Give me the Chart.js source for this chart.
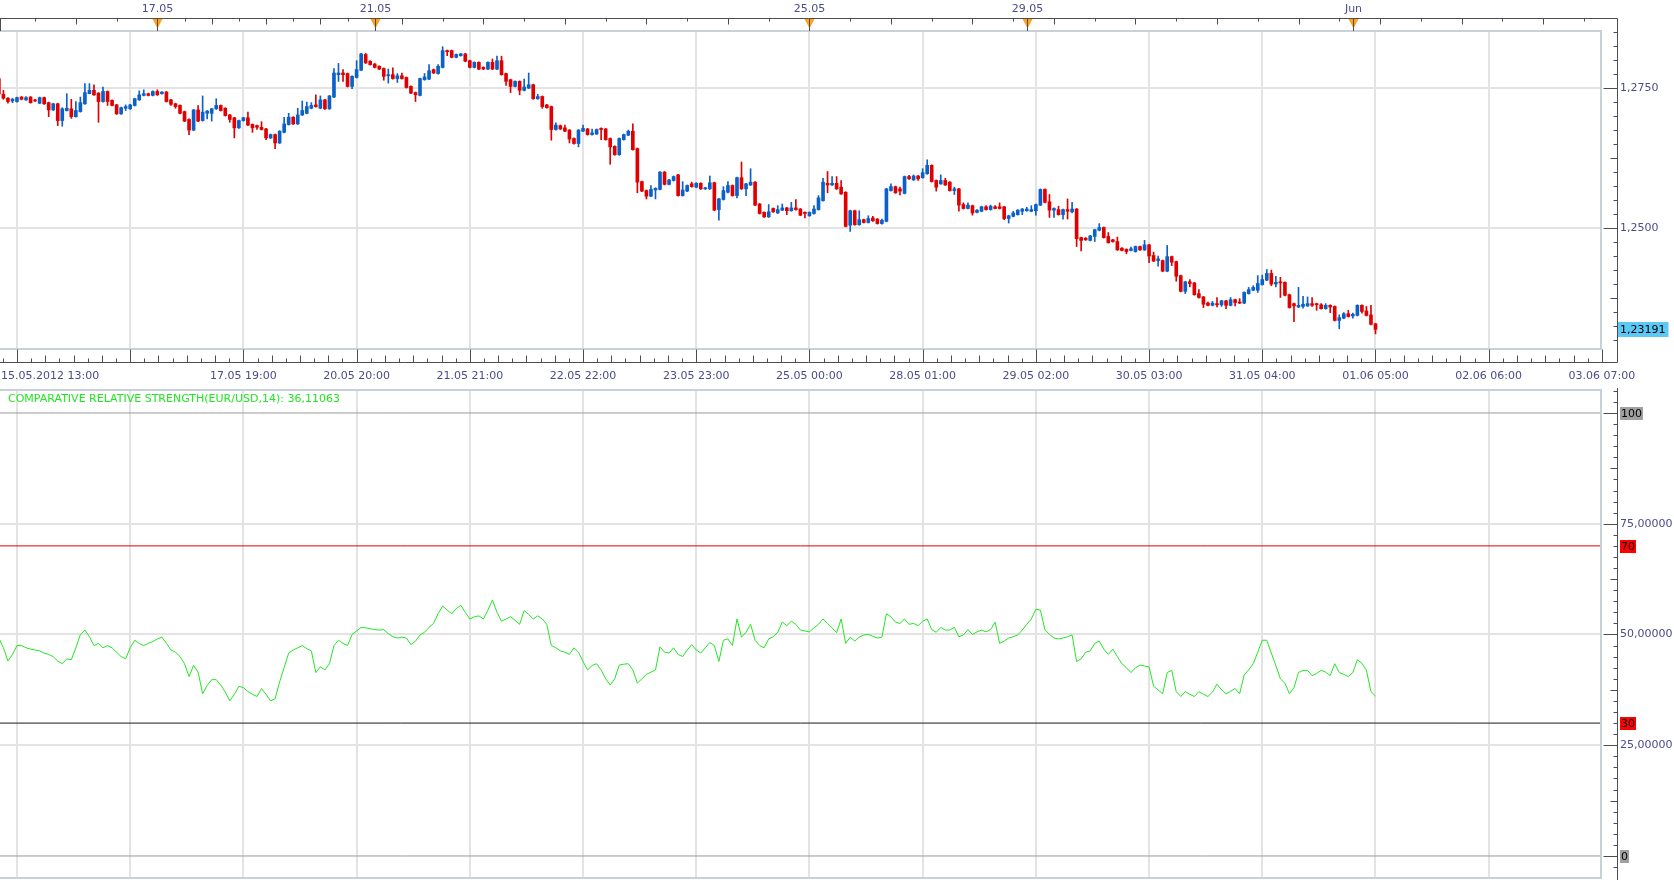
<!DOCTYPE html>
<html>
<head>
<meta charset="utf-8">
<title>EUR/USD H1 with Comparative Relative Strength</title>
<script src="https://cdn.jsdelivr.net/npm/chart.js@4/dist/chart.umd.min.js"></script>
<style>
  html, body { margin: 0; padding: 0; background: #fff; }
  #wrap { position: relative; width: 1674px; height: 880px; overflow: hidden; }
  #priceChart { position: absolute; left: 0; top: 0; }
  #rsiChart { position: absolute; left: 0; top: 388px; }
</style>
</head>
<body>
<div id="wrap">
  <canvas id="priceChart" width="1674" height="388"></canvas>
  <canvas id="rsiChart" width="1674" height="492"></canvas>
</div>
<script>
// hourly EUR/USD candles, 15.05.2012 - 01.06.2012 (index 0 = first visible bar)
var opens = [
  1.2767,1.2739,1.2732,1.2727,1.2726,1.2734,1.2729,1.2734,1.2728,1.2723,
  1.2733,1.2724,1.2711,1.2722,1.2692,1.2710,1.2713,1.2699,1.2708,1.2722,
  1.2740,1.2746,1.2741,1.2726,1.2744,1.2728,1.2720,1.2704,1.2714,1.2713,
  1.2719,1.2729,1.2737,1.2740,1.2737,1.2744,1.2740,1.2743,1.2729,1.2722,
  1.2719,1.2708,1.2694,1.2675,1.2711,1.2692,1.2705,1.2705,1.2713,1.2719,
  1.2714,1.2702,1.2697,1.2679,1.2692,1.2697,1.2685,1.2683,1.2680,1.2677,
  1.2661,1.2667,1.2652,1.2671,1.2685,1.2698,1.2686,1.2702,1.2705,1.2714,
  1.2720,1.2714,1.2729,1.2713,1.2734,1.2774,1.2777,1.2776,1.2753,1.2769,
  1.2782,1.2810,1.2798,1.2793,1.2789,1.2785,1.2772,1.2774,1.2767,1.2772,
  1.2769,1.2753,1.2742,1.2737,1.2765,1.2766,1.2783,1.2776,1.2787,1.2817,
  1.2817,1.2805,1.2808,1.2811,1.2799,1.2787,1.2796,1.2787,1.2784,1.2796,
  1.2784,1.2799,1.2776,1.2765,1.2753,1.2762,1.2746,1.2750,1.2756,1.2731,
  1.2735,1.2720,1.2717,1.2676,1.2683,1.2679,1.2675,1.2660,1.2651,1.2673,
  1.2677,1.2667,1.2668,1.2678,1.2677,1.2660,1.2646,1.2631,1.2658,1.2666,
  1.2673,1.2642,1.2583,1.2567,1.2557,1.2568,1.2569,1.2600,1.2578,1.2585,
  1.2595,1.2558,1.2566,1.2579,1.2573,1.2580,1.2570,1.2570,1.2581,1.2533,
  1.2551,1.2564,1.2576,1.2558,1.2590,1.2570,1.2577,1.2582,1.2543,1.2528,
  1.2520,1.2535,1.2527,1.2532,1.2536,1.2531,1.2536,1.2534,1.2528,1.2522,
  1.2526,1.2533,1.2549,1.2580,1.2577,1.2580,1.2573,1.2564,1.2505,1.2531,
  1.2506,1.2515,1.2510,1.2518,1.2516,1.2508,1.2512,1.2567,1.2574,1.2570,
  1.2562,1.2592,1.2586,1.2593,1.2590,1.2597,1.2612,1.2585,1.2579,1.2585,
  1.2582,1.2567,1.2570,1.2542,1.2535,1.2540,1.2528,1.2530,1.2538,1.2533,
  1.2538,1.2538,1.2538,1.2517,1.2521,1.2524,1.2530,1.2531,1.2530,1.2531,
  1.2541,1.2569,1.2547,1.2532,1.2533,1.2524,1.2533,1.2529,1.2534,1.2483,
  1.2482,1.2478,1.2485,1.2496,1.2501,1.2485,1.2479,1.2476,1.2464,1.2462,
  1.2460,1.2458,1.2467,1.2461,1.2470,1.2451,1.2442,1.2442,1.2423,1.2449,
  1.2440,1.2415,1.2387,1.2404,1.2402,1.2383,1.2377,1.2366,1.2362,1.2365,
  1.2363,1.2370,1.2362,1.2372,1.2368,1.2366,1.2383,1.2389,1.2389,1.2399,
  1.2407,1.2419,1.2400,1.2404,1.2403,1.2381,1.2365,1.2359,1.2360,1.2361,
  1.2365,1.2365,1.2363,1.2356,1.2362,1.2360,1.2335,1.2339,1.2347,1.2343,
  1.2344,1.2362,1.2352,1.2345,1.2329
];
var highs = [
  1.2767,1.2746,1.2733,1.2732,1.2734,1.2735,1.2735,1.2735,1.2730,1.2734,
  1.2734,1.2725,1.2723,1.2723,1.2715,1.2740,1.2730,1.2726,1.2734,1.2758,
  1.2758,1.2756,1.2742,1.2752,1.2745,1.2729,1.2721,1.2716,1.2720,1.2721,
  1.2732,1.2745,1.2747,1.2741,1.2745,1.2747,1.2744,1.2744,1.2730,1.2723,
  1.2720,1.2709,1.2695,1.2712,1.2719,1.2736,1.2710,1.2714,1.2731,1.2720,
  1.2715,1.2703,1.2698,1.2693,1.2698,1.2707,1.2686,1.2684,1.2690,1.2678,
  1.2668,1.2668,1.2674,1.2698,1.2705,1.2699,1.2714,1.2727,1.2725,1.2724,
  1.2738,1.2736,1.2730,1.2737,1.2785,1.2794,1.2783,1.2777,1.2772,1.2799,
  1.2812,1.2812,1.2799,1.2794,1.2790,1.2786,1.2784,1.2786,1.2776,1.2777,
  1.2770,1.2754,1.2743,1.2768,1.2776,1.2792,1.2784,1.2792,1.2824,1.2818,
  1.2818,1.2811,1.2812,1.2812,1.2800,1.2797,1.2797,1.2788,1.2797,1.2802,
  1.2807,1.2807,1.2777,1.2766,1.2763,1.2763,1.2766,1.2777,1.2757,1.2739,
  1.2736,1.2721,1.2718,1.2688,1.2684,1.2684,1.2676,1.2661,1.2676,1.2684,
  1.2678,1.2677,1.2677,1.2679,1.2678,1.2661,1.2647,1.2661,1.2668,1.2675,
  1.2686,1.2643,1.2584,1.2568,1.2576,1.2572,1.2601,1.2601,1.2587,1.2593,
  1.2596,1.2583,1.2577,1.2582,1.2581,1.2581,1.2573,1.2593,1.2582,1.2553,
  1.2574,1.2583,1.2577,1.2591,1.2618,1.2580,1.2606,1.2583,1.2544,1.2529,
  1.2542,1.2536,1.2540,1.2543,1.2537,1.2546,1.2551,1.2535,1.2529,1.2529,
  1.2540,1.2558,1.2589,1.2601,1.2592,1.2592,1.2585,1.2565,1.2532,1.2532,
  1.2531,1.2516,1.2522,1.2521,1.2517,1.2516,1.2571,1.2579,1.2575,1.2573,
  1.2593,1.2594,1.2595,1.2594,1.2606,1.2622,1.2613,1.2586,1.2595,1.2589,
  1.2583,1.2573,1.2571,1.2545,1.2545,1.2541,1.2533,1.2539,1.2540,1.2541,
  1.2540,1.2545,1.2539,1.2523,1.2530,1.2533,1.2535,1.2537,1.2540,1.2543,
  1.2570,1.2570,1.2560,1.2536,1.2539,1.2534,1.2552,1.2546,1.2535,1.2484,
  1.2483,1.2487,1.2498,1.2508,1.2502,1.2492,1.2480,1.2484,1.2465,1.2463,
  1.2466,1.2468,1.2468,1.2478,1.2471,1.2457,1.2450,1.2443,1.2469,1.2450,
  1.2441,1.2416,1.2405,1.2408,1.2403,1.2390,1.2378,1.2368,1.2369,1.2376,
  1.2371,1.2371,1.2376,1.2373,1.2374,1.2386,1.2394,1.2397,1.2415,1.2416,
  1.2426,1.2425,1.2414,1.2412,1.2404,1.2382,1.2366,1.2394,1.2378,1.2377,
  1.2376,1.2366,1.2365,1.2365,1.2363,1.2361,1.2345,1.2349,1.2353,1.2348,
  1.2363,1.2363,1.2360,1.2362,1.2330
];
var lows = [
  1.2738,1.2730,1.2723,1.2724,1.2725,1.2729,1.2728,1.2723,1.2726,1.2722,
  1.2721,1.2699,1.2710,1.2683,1.2682,1.2709,1.2696,1.2698,1.2707,1.2721,
  1.2740,1.2737,1.2689,1.2725,1.2719,1.2718,1.2703,1.2703,1.2710,1.2712,
  1.2718,1.2728,1.2736,1.2736,1.2736,1.2737,1.2739,1.2725,1.2719,1.2714,
  1.2704,1.2690,1.2667,1.2674,1.2690,1.2691,1.2695,1.2691,1.2712,1.2709,
  1.2700,1.2689,1.2661,1.2678,1.2691,1.2683,1.2671,1.2676,1.2675,1.2658,
  1.2660,1.2642,1.2651,1.2670,1.2684,1.2685,1.2685,1.2701,1.2704,1.2713,
  1.2716,1.2713,1.2712,1.2712,1.2733,1.2762,1.2762,1.2752,1.2749,1.2768,
  1.2781,1.2794,1.2791,1.2786,1.2783,1.2764,1.2759,1.2766,1.2760,1.2766,
  1.2750,1.2740,1.2726,1.2736,1.2764,1.2765,1.2776,1.2775,1.2786,1.2808,
  1.2804,1.2804,1.2807,1.2797,1.2786,1.2786,1.2783,1.2783,1.2783,1.2783,
  1.2783,1.2773,1.2755,1.2742,1.2752,1.2738,1.2745,1.2749,1.2730,1.2730,
  1.2714,1.2714,1.2657,1.2675,1.2676,1.2672,1.2652,1.2650,1.2645,1.2672,
  1.2666,1.2666,1.2667,1.2658,1.2657,1.2614,1.2630,1.2630,1.2657,1.2665,
  1.2639,1.2563,1.2565,1.2552,1.2556,1.2552,1.2568,1.2577,1.2577,1.2584,
  1.2557,1.2557,1.2565,1.2573,1.2572,1.2569,1.2569,1.2569,1.2531,1.2514,
  1.2550,1.2563,1.2557,1.2554,1.2569,1.2558,1.2576,1.2540,1.2525,1.2519,
  1.2519,1.2528,1.2526,1.2531,1.2524,1.2530,1.2532,1.2522,1.2518,1.2521,
  1.2525,1.2532,1.2548,1.2563,1.2576,1.2569,1.2560,1.2502,1.2494,1.2505,
  1.2505,1.2509,1.2509,1.2512,1.2507,1.2507,1.2511,1.2566,1.2562,1.2559,
  1.2561,1.2587,1.2585,1.2585,1.2589,1.2596,1.2582,1.2566,1.2578,1.2576,
  1.2566,1.2560,1.2530,1.2534,1.2534,1.2523,1.2527,1.2529,1.2532,1.2532,
  1.2534,1.2534,1.2515,1.2509,1.2520,1.2523,1.2524,1.2530,1.2529,1.2523,
  1.2540,1.2545,1.2519,1.2519,1.2523,1.2516,1.2516,1.2527,1.2467,1.2459,
  1.2478,1.2477,1.2476,1.2495,1.2482,1.2473,1.2475,1.2460,1.2459,1.2454,
  1.2459,1.2457,1.2460,1.2460,1.2438,1.2440,1.2432,1.2422,1.2422,1.2433,
  1.2405,1.2386,1.2383,1.2395,1.2380,1.2375,1.2358,1.2361,1.2361,1.2359,
  1.2360,1.2356,1.2361,1.2361,1.2365,1.2365,1.2382,1.2388,1.2385,1.2398,
  1.2406,1.2397,1.2395,1.2376,1.2379,1.2357,1.2333,1.2358,1.2357,1.2360,
  1.2360,1.2353,1.2355,1.2355,1.2349,1.2334,1.2320,1.2338,1.2341,1.2339,
  1.2343,1.2348,1.2343,1.2327,1.2311
];
var closes = [
  1.2739,1.2732,1.2726,1.2730,1.2733,1.2730,1.2733,1.2724,1.2727,1.2733,
  1.2722,1.2711,1.2722,1.2692,1.2713,1.2714,1.2699,1.2710,1.2724,1.2742,
  1.2746,1.2738,1.2726,1.2744,1.2726,1.2719,1.2704,1.2715,1.2717,1.2720,
  1.2731,1.2738,1.2740,1.2737,1.2744,1.2738,1.2743,1.2726,1.2721,1.2717,
  1.2705,1.2691,1.2675,1.2711,1.2691,1.2707,1.2709,1.2713,1.2719,1.2710,
  1.2701,1.2694,1.2679,1.2692,1.2697,1.2684,1.2679,1.2680,1.2676,1.2661,
  1.2667,1.2652,1.2673,1.2686,1.2698,1.2686,1.2702,1.2710,1.2717,1.2719,
  1.2717,1.2729,1.2713,1.2736,1.2777,1.2777,1.2774,1.2753,1.2771,1.2783,
  1.2811,1.2795,1.2792,1.2787,1.2784,1.2771,1.2774,1.2767,1.2772,1.2767,
  1.2751,1.2741,1.2738,1.2767,1.2770,1.2781,1.2777,1.2789,1.2817,1.2815,
  1.2805,1.2810,1.2811,1.2798,1.2787,1.2796,1.2784,1.2784,1.2796,1.2784,
  1.2799,1.2774,1.2762,1.2753,1.2762,1.2746,1.2752,1.2756,1.2731,1.2735,
  1.2717,1.2715,1.2676,1.2684,1.2677,1.2673,1.2659,1.2651,1.2675,1.2678,
  1.2667,1.2670,1.2676,1.2676,1.2658,1.2645,1.2631,1.2660,1.2667,1.2673,
  1.2640,1.2582,1.2566,1.2557,1.2569,1.2571,1.2600,1.2578,1.2586,1.2592,
  1.2558,1.2568,1.2576,1.2574,1.2580,1.2570,1.2572,1.2581,1.2532,1.2552,
  1.2567,1.2576,1.2558,1.2590,1.2570,1.2579,1.2582,1.2541,1.2526,1.2520,
  1.2529,1.2529,1.2533,1.2536,1.2531,1.2536,1.2533,1.2523,1.2526,1.2528,
  1.2534,1.2554,1.2582,1.2577,1.2580,1.2570,1.2561,1.2503,1.2531,1.2506,
  1.2515,1.2510,1.2517,1.2513,1.2508,1.2514,1.2570,1.2574,1.2563,1.2566,
  1.2592,1.2588,1.2593,1.2588,1.2599,1.2612,1.2583,1.2573,1.2585,1.2577,
  1.2567,1.2570,1.2541,1.2535,1.2541,1.2527,1.2532,1.2538,1.2533,1.2539,
  1.2535,1.2535,1.2517,1.2522,1.2527,1.2532,1.2534,1.2534,1.2533,1.2542,
  1.2569,1.2546,1.2532,1.2535,1.2524,1.2533,1.2530,1.2534,1.2481,1.2478,
  1.2479,1.2486,1.2497,1.2501,1.2483,1.2474,1.2476,1.2461,1.2460,1.2458,
  1.2463,1.2467,1.2461,1.2470,1.2450,1.2441,1.2445,1.2423,1.2449,1.2439,
  1.2414,1.2387,1.2404,1.2401,1.2381,1.2376,1.2364,1.2362,1.2366,1.2363,
  1.2370,1.2362,1.2372,1.2367,1.2366,1.2385,1.2390,1.2394,1.2401,1.2408,
  1.2419,1.2400,1.2403,1.2402,1.2380,1.2358,1.2361,1.2362,1.2364,1.2365,
  1.2362,1.2363,1.2356,1.2362,1.2359,1.2335,1.2340,1.2347,1.2342,1.2346,
  1.2362,1.2351,1.2344,1.2328,1.23191
];

// comparative relative strength (EUR/USD, 14), one value per candle
var crs = [
  49.2,47,44,45.5,47.5,47.5,47,46.7,46.5,46.3,
  45.8,45.5,45,44,43.4,44.5,44.3,47,50,51,
  49.5,47.5,48,47,47.5,47,46,45,44.5,47,
  48.7,48,47.5,48,48.4,49,49.4,48,46.5,46,
  45,43.4,40.5,43,41.5,36.6,38.5,39.8,39.8,38.6,
  37,35,36.5,38.3,38,37.1,36.5,36,37.8,36.5,
  35,35.5,39.3,42.5,45.8,46.5,47,47.5,46.8,46.3,
  41.4,42.7,42,43.4,47.5,48.7,48,47.5,50,50.8,
  51.6,51.5,51.3,51.1,51,51.1,50.2,49.5,49.2,49.4,
  49.2,47.7,48.5,49.9,50.5,51.6,52.5,54.7,56.4,55.5,
  54.7,55.8,56.6,55,53.5,54,54.2,53.5,55.5,57.8,
  55,53,53.5,54,53.2,52.3,55.4,54.5,53.5,54.2,
  53.5,52.3,47.5,47,46.3,46,45.5,47,46,43.9,
  42,43,43.4,42,40,38.6,40,43.1,43.3,43.4,
  42,39,40,41,41.5,42,47.2,46,45.8,47,
  45.5,45,46.5,47.7,46.5,45.8,47,48.2,47.5,43.9,
  48.7,49,47.5,53.5,49.4,50.5,52.3,48.7,47.5,47,
  49,49.5,50.5,52.8,52,53,52.3,51,50.8,50.6,
  51.5,52.3,53.5,52.5,51.5,50.4,53.5,48,49.4,48.5,
  49.4,49.9,50,49.6,49.2,49.4,54.7,54,52.8,52.5,
  53.5,52.3,52.5,52,53,53.5,51.1,50.5,51.6,51,
  51,51.6,49.5,49.9,51.1,50,50.6,51,50.6,51.1,
  52.8,48,48.5,49.2,49.5,49.9,51,52.3,53.5,55.7,
  55.5,51.1,50,49.2,49,49.2,49.5,49.9,43.9,44.5,
  46,46.3,48,48.5,46.7,45.5,46.7,45,43.4,42.5,
  41.4,42.5,43.1,42.9,42.7,38.3,37.5,36.6,41.4,41.9,
  37.1,36,37.1,36.5,36,37.1,36.5,36,37,38.8,
  37.5,36.6,37.2,37.8,36.6,40.9,42,43.4,46,48.7,
  48.7,45.8,43,40,39,36.6,38,41.4,41.9,41.9,
  40.7,41.2,41.9,41.5,40.7,43.4,41.4,41,40.5,41.4,
  44.3,43.5,41.9,37.1,36.11063
];

// bottom time axis: one label every 25 bars, first one at bar 4
var timeLabels = ['15.05.2012 13:00', '', '17.05 19:00', '20.05 20:00', '21.05 21:00', '22.05 22:00',
  '23.05 23:00', '25.05 00:00', '28.05 01:00', '29.05 02:00', '30.05 03:00', '31.05 04:00',
  '01.06 05:00', '02.06 06:00', '03.06 07:00'];
var timeLabelStart = 4;
var timeLabelStep = 25;

// day markers on the top axis
var dayMarkerIdx = [35, 83, 179, 227, 299];
var dayMarkerLabels = ['17.05', '21.05', '25.05', '29.05', 'Jun'];

var priceTicks = [1.25, 1.275];
var crsTicks = [25, 50, 75];
var levelValues = [100, 70, 30, 0];
var levelColors = ['#9a9a9a', '#e00000', '#1a1a1a', '#9a9a9a'];
var levelBoxColors = ['#a0a0a0', '#ff0000', '#ff0000', '#a0a0a0'];

var X_MIN = 0.25;
var X_MAX = 353.8;
var UP = '#0b61c8';
var DOWN = '#e00000';
var FONT_FAMILY = '"DejaVu Sans", Verdana, sans-serif';
var FONT = '11px ' + FONT_FAMILY;
var AXIS_TEXT = '#4b4b8c';
var AXIS_LINE = '#4d4d4d';
var FRAME = '#c8d0da';
var GRID = '#e3e3e3';
var CRS_GREEN = '#22e622';

Chart.defaults.font.family = FONT_FAMILY;
Chart.defaults.font.size = 11;

function commaNum(v, digits) {
  return v.toFixed(digits).replace('.', ',');
}

function gridTickValues() {
  var out = [];
  for (var j = 0; j < timeLabels.length - 1; j++) {
    out.push({ value: timeLabelStart + j * timeLabelStep });
  }
  return out;
}

// keep the right axis exactly 73px wide and stop it padding the plot vertically
function fitRightAxis(s) {
  s.width = 73;
  s.paddingTop = 0;
  s.paddingBottom = 0;
}

function hline(ctx, x1, x2, y) {
  ctx.beginPath();
  ctx.moveTo(x1, y);
  ctx.lineTo(x2, y);
  ctx.stroke();
}

function vline(ctx, x, y1, y2) {
  ctx.beginPath();
  ctx.moveTo(x, y1);
  ctx.lineTo(x, y2);
  ctx.stroke();
}

function drawPlotFrame(ctx, area) {
  ctx.save();
  ctx.strokeStyle = FRAME;
  ctx.lineWidth = 2;
  ctx.strokeRect(area.left - 2, area.top, area.right - area.left + 2, area.bottom - area.top);
  ctx.restore();
}

// right axis ticks pointing into the plot, major/medium/minor lengths
function drawValueTicks(ctx, yScale, axisX, step, mediumEvery, majorEvery) {
  var k0 = Math.ceil(yScale.min / step);
  var k1 = Math.floor(yScale.max / step);
  for (var k = k0; k <= k1; k++) {
    var y = Math.round(yScale.getPixelForValue(k * step)) + 0.5;
    var len = 4;
    if (k % majorEvery === 0) len = 14;
    else if (k % mediumEvery === 0) len = 7;
    hline(ctx, axisX - len, axisX, y);
  }
}

var priceFrame = {
  id: 'priceFrame',
  afterDraw: function (chart) {
    var ctx = chart.ctx;
    var a = chart.chartArea;
    var xs = chart.scales.x;
    var ys = chart.scales.y;
    var axisX = a.right + 16.5;
    var topY = 18.5;
    var botY = a.bottom + 13.5;

    drawPlotFrame(ctx, a);

    ctx.save();
    ctx.strokeStyle = AXIS_LINE;
    ctx.lineWidth = 1;
    hline(ctx, 0, axisX, topY);
    hline(ctx, 0, axisX, botY);
    vline(ctx, axisX, topY, botY);
    vline(ctx, 0.5, topY, a.top);

    drawValueTicks(ctx, ys, axisX, 0.0025, 5, 10);

    // bottom time axis ticks, 8 per label interval
    var sub = timeLabelStep / 8;
    for (var k = -2; k < 120; k++) {
      var v = timeLabelStart + k * sub;
      if (v < X_MIN || v > X_MAX + 0.5) continue;
      var x = Math.round(xs.getPixelForValue(v)) + 0.5;
      var len = (k % 8 === 0) ? 13 : (k % 2 === 0 ? 7 : 4);
      vline(ctx, x, botY - len, botY);
    }

    // top date axis ticks
    for (var t = X_MIN; t < X_MAX; t += 1) {
      var ti = Math.round(t);
      var step = (ti >= 35 && ti <= 83) ? 6 : 9;
      if ((ti - 35) % step !== 0) continue;
      var tx = Math.round(xs.getPixelForValue(ti)) + 0.5;
      var tl = (((ti - 35) / step) % 2 === 0) ? 6 : 3;
      vline(ctx, tx, topY, topY + tl);
    }

    // day markers
    ctx.font = FONT;
    ctx.textAlign = 'center';
    ctx.textBaseline = 'middle';
    for (var m = 0; m < dayMarkerIdx.length; m++) {
      var mx = Math.round(xs.getPixelForValue(dayMarkerIdx[m])) + 0.5;
      ctx.fillStyle = '#ffa21f';
      ctx.beginPath();
      ctx.moveTo(mx - 5, topY + 0.5);
      ctx.lineTo(mx + 5, topY + 0.5);
      ctx.lineTo(mx, topY + 10);
      ctx.closePath();
      ctx.fill();
      ctx.strokeStyle = AXIS_LINE;
      vline(ctx, mx, topY, a.top);
      ctx.fillStyle = AXIS_TEXT;
      ctx.fillText(dayMarkerLabels[m], mx, 9);
    }

    // time labels under the price pane
    for (var j = 0; j < timeLabels.length; j++) {
      if (!timeLabels[j]) continue;
      var lx = xs.getPixelForValue(timeLabelStart + j * timeLabelStep);
      var w = ctx.measureText(timeLabels[j]).width;
      lx = Math.max(lx, w / 2 + 1);
      ctx.fillText(timeLabels[j], lx, a.bottom + 27);
    }

    // last price box
    var last = closes[closes.length - 1];
    var py = Math.round(ys.getPixelForValue(last));
    var txt = commaNum(last, 5);
    var tw = ctx.measureText(txt).width;
    ctx.fillStyle = '#5bc8f5';
    ctx.fillRect(a.right + 17, py - 7, tw + 5, 15);
    ctx.fillStyle = '#000';
    ctx.textAlign = 'left';
    ctx.fillText(txt, a.right + 19, py + 1);
    ctx.restore();
  }
};

var crsFrame = {
  id: 'crsFrame',
  afterDraw: function (chart) {
    var ctx = chart.ctx;
    var a = chart.chartArea;
    var ys = chart.scales.y;
    var axisX = a.right + 16.5;

    drawPlotFrame(ctx, a);

    ctx.save();
    ctx.strokeStyle = AXIS_LINE;
    ctx.lineWidth = 1;
    vline(ctx, axisX, 0, chart.height);
    drawValueTicks(ctx, ys, axisX, 2.5, 5, 10);

    // level labels
    ctx.font = FONT;
    ctx.textAlign = 'left';
    ctx.textBaseline = 'middle';
    for (var i = 0; i < levelValues.length; i++) {
      var y = Math.round(ys.getPixelForValue(levelValues[i]));
      var txt = String(levelValues[i]);
      var tw = ctx.measureText(txt).width;
      ctx.fillStyle = levelBoxColors[i];
      ctx.fillRect(a.right + 19, y - 6, tw + 2, 13);
      ctx.fillStyle = '#000';
      ctx.fillText(txt, a.right + 20, y + 1);
    }

    // indicator caption
    ctx.fillStyle = CRS_GREEN;
    ctx.fillText('COMPARATIVE RELATIVE STRENGTH(EUR/USD,14): ' + commaNum(crs[crs.length - 1], 5), 8, a.top + 9);
    ctx.restore();
  }
};

function candleColor(c) {
  var i = c.dataIndex;
  return closes[i] >= opens[i] ? UP : DOWN;
}

function setupPriceChart() {
  var wicks = [];
  var bodies = [];
  closes.forEach(function (c, i) {
    wicks.push({ x: i, y: [lows[i], highs[i]] });
    bodies.push({ x: i, y: [opens[i], c] });
  });

  new Chart(document.getElementById('priceChart'), {
    type: 'bar',
    data: {
      datasets: [{
        label: 'wick',
        data: wicks,
        backgroundColor: candleColor,
        barThickness: 1,
        grouped: false,
        order: 2
      }, {
        label: 'body',
        data: bodies,
        backgroundColor: candleColor,
        barThickness: 3,
        minBarLength: 1,
        grouped: false,
        order: 1
      }]
    },
    options: {
      responsive: false,
      animation: false,
      devicePixelRatio: 1,
      layout: { padding: { top: 31, left: 0, right: 0, bottom: 0 } },
      plugins: { legend: { display: false }, tooltip: { enabled: false } },
      scales: {
        x: {
          type: 'linear',
          offset: false,
          min: X_MIN,
          max: X_MAX,
          afterBuildTicks: function (s) { s.ticks = gridTickValues(); },
          afterFit: function (s) { s.height = 39; },
          ticks: { display: false },
          grid: { color: GRID, lineWidth: 2, drawTicks: false, offset: false },
          border: { display: false }
        },
        y: {
          position: 'right',
          min: 1.2284,
          max: 1.2852,
          afterBuildTicks: function (s) {
            s.ticks = priceTicks.map(function (v) { return { value: v }; });
          },
          afterFit: fitRightAxis,
          ticks: {
            padding: 19,
            color: AXIS_TEXT,
            callback: function (v) { return commaNum(v, 4); }
          },
          grid: { color: GRID, lineWidth: 2, drawTicks: false },
          border: { display: false }
        }
      }
    },
    plugins: [priceFrame]
  });
}

function setupCrsChart() {
  var datasets = levelValues.map(function (v, k) {
    return {
      data: [{ x: X_MIN, y: v }, { x: X_MAX, y: v }],
      borderColor: levelColors[k],
      borderWidth: 1,
      pointRadius: 0
    };
  });
  datasets.push({
    data: crs.map(function (v, i) { return { x: i, y: v }; }),
    borderColor: CRS_GREEN,
    borderWidth: 1,
    pointRadius: 0,
    tension: 0
  });

  new Chart(document.getElementById('rsiChart'), {
    type: 'line',
    data: { datasets: datasets },
    options: {
      responsive: false,
      animation: false,
      devicePixelRatio: 1,
      layout: { padding: { top: 2, left: 0, right: 0, bottom: 2 } },
      plugins: { legend: { display: false }, tooltip: { enabled: false } },
      scales: {
        x: {
          type: 'linear',
          offset: false,
          min: X_MIN,
          max: X_MAX,
          afterBuildTicks: function (s) { s.ticks = gridTickValues(); },
          afterFit: function (s) { s.height = 0; },
          ticks: { display: false },
          grid: { color: GRID, lineWidth: 2, drawTicks: false },
          border: { display: false }
        },
        y: {
          position: 'right',
          min: -4.97,
          max: 105.19,
          afterBuildTicks: function (s) {
            s.ticks = crsTicks.map(function (v) { return { value: v }; });
          },
          afterFit: fitRightAxis,
          ticks: {
            padding: 19,
            color: AXIS_TEXT,
            callback: function (v) { return commaNum(v, 5); }
          },
          grid: { color: GRID, lineWidth: 2, drawTicks: false },
          border: { display: false }
        }
      }
    },
    plugins: [crsFrame]
  });
}

setupPriceChart();
setupCrsChart();
</script>
</body>
</html>
